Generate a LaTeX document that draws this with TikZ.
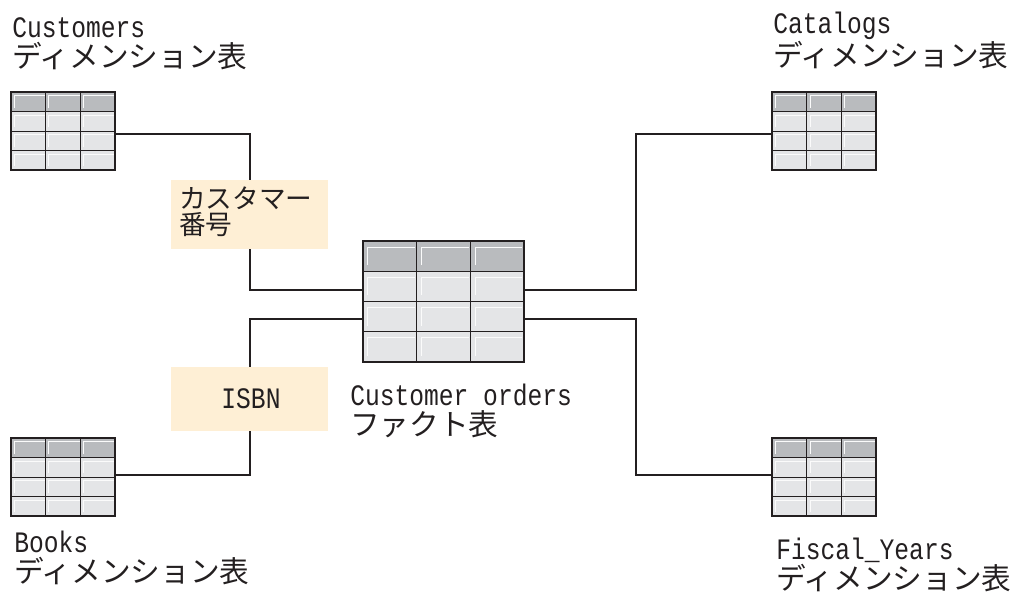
\documentclass[tikz,border=0pt]{standalone}
\usepackage{fontspec}
\setmainfont{Noto Sans CJK JP}
\newfontfamily\latf[FakeStretch=0.83]{Liberation Mono}
\definecolor{hdr}{HTML}{B9BBBE}
\definecolor{cellc}{HTML}{E4E5E7}
\definecolor{lab}{HTML}{FEEFD5}
\definecolor{ink}{HTML}{231F20}
\newcommand{\lat}[1]{{\latf #1}}
\newcommand{\tbl}[7]{%
 % name, x0, y0, x1, y1, outer width, highlight width
 \pgfmathsetmacro{\tw}{#4-#2}\pgfmathsetmacro{\th}{#5-#3}
 \begin{scope}[shift={(#2,#3)},x=\tw*0.75pt,y=-\th*0.75pt]
  \fill[cellc] (0,0) rectangle (1,1);
  \fill[hdr] (0,0) rectangle (1,.25);
  \foreach \cx/\dx in {0/.335,.335/.335,.67/.33}{
   \foreach \ry in {0,.25,.5,.75}{
    \draw[white!85!cellc,line width=#7] (\cx+.03,\ry+.2) -- (\cx+.03,\ry+.05) -- (\cx+\dx-.01,\ry+.05);
   }}
  \draw[ink,line width=#7] (.335,0) -- (.335,1) (.67,0) -- (.67,1);
  \draw[ink,line width=#7] (0,.25) -- (1,.25) (0,.5) -- (1,.5) (0,.75) -- (1,.75);
 \end{scope}
 \node[tablebox,line width=#6,minimum width=\tw*0.75pt,minimum height=\th*0.75pt] (#1) at ({(#2+#4)/2},{(#3+#5)/2}) {};
}
\tikzset{
 tablebox/.style={draw=ink,inner sep=0pt,outer sep=0pt,rectangle},
 conn/.style={draw=ink,line width=1pt},
 caption/.style={text=ink,align=left,anchor=north west,inner sep=0pt,font=\fontsize{22.25}{22.5}\selectfont},
 labelbox/.style={fill=lab,inner sep=0pt,outer sep=0pt,minimum width=117.75pt},
}
\begin{document}
\begin{tikzpicture}[x=0.75pt,y=-0.75pt]
\useasboundingbox (0,0) rectangle (1013,592);
\tbl{cust}{11}{92}{115}{170}{1.6pt}{0.7pt}
\tbl{cat}{772}{92}{876}{170}{1.6pt}{0.7pt}
\tbl{books}{11}{438}{115}{516}{1.6pt}{0.7pt}
\tbl{fiscal}{772}{438}{876}{516}{1.6pt}{0.7pt}
\tbl{fact}{363}{241}{524}{362}{1.6pt}{0.8pt}

\coordinate (j1) at (250,134);
\coordinate (j2) at (250,290);
\coordinate (j3) at (636,290);
\coordinate (j4) at (636,134);
\coordinate (j5) at (250,475);
\coordinate (j6) at (250,319);
\coordinate (j7) at (636,319);
\coordinate (j8) at (636,475);
\draw[conn] (cust.east |- j1) -- (j1) -- (j2) -- (fact.west |- j2);
\draw[conn] (fact.east |- j3) -- (j3) -- (j4) -- (cat.west |- j4);
\draw[conn] (books.east |- j5) -- (j5) -- (j6) -- (fact.west |- j6);
\draw[conn] (fact.east |- j7) -- (j7) -- (j8) -- (fiscal.west |- j8);

\node[labelbox,minimum height=51.75pt] (lb1) at (249.5,214.5) {};
\node[labelbox,minimum height=48pt] (lb2) at (249.5,399) {};
\node[text=ink,align=left,anchor=north west,inner sep=0pt,font=\fontsize{20}{19.5}\selectfont] (t1) at (179,187) {カスタマー\\番号};
\node[text=ink,inner sep=0pt,font=\fontsize{22.25}{22.5}\selectfont] (t2) at (251,399) {\lat{ISBN}};

\node[caption] (c1) at (12,17) {\lat{Customers}\\ディメンション表};
\node[caption] (c2) at (773,12) {\lat{Catalogs}\\ディメンション表};
\node[caption] (c3) at (14,531) {\lat{Books}\\ディメンション表};
\node[caption] (c4) at (776,538) {\lat{Fiscal\_Years}\\ディメンション表};
\node[caption] (c5) at (350,384) {\lat{Customer orders}\\ファクト表};
\end{tikzpicture}
\end{document}
